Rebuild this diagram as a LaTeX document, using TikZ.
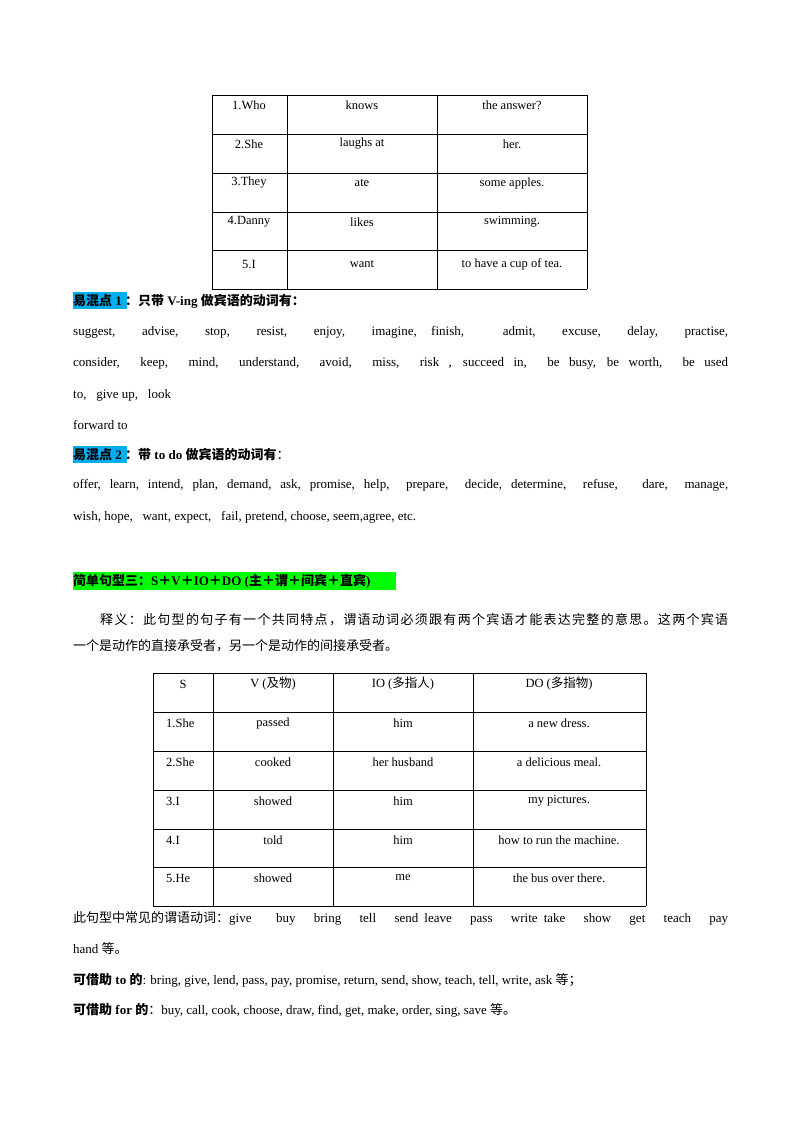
\documentclass[tikz,border=0pt]{standalone}
\usepackage{fontspec}
\setmainfont{Liberation Serif}
\newfontfamily\cjk{Noto Sans CJK SC}
\begin{document}
\begin{tikzpicture}[x=1pt,y=-1pt,
  tl/.style={draw=black,line width=0.6pt},
  ct/.style={font=\fontsize{12.5}{14}\selectfont,anchor=center,inner sep=0},
  ln/.style={font=\fontsize{13}{15}\selectfont,anchor=west,inner sep=0}]
\useasboundingbox (0,0) rectangle (800,1132);
% table 1
\foreach \y in {95,134,173,212,250,289} \draw[tl] (212,\y) -- (587,\y);
\foreach \x in {212,287,437,587} \draw[tl] (\x,95) -- (\x,289);
\foreach \r/\a/\b/\c [count=\i] in {0/1.Who/knows/the answer?,1/2.She/laughs at/her.,2/3.They/ate/some apples.,3/4.Danny/likes/swimming.,4/5.I/want/to have a cup of tea.}{
  \pgfmathsetmacro\yy{105+39*\r+(\r==4?3:0)}
  \node[ct] (a\i) at (249,\yy) {\a};
  \node[ct] (b\i) at (362,\yy) {\b};
  \node[ct] (c\i) at (512,\yy) {\c};}
% point 1
\fill[cyan] (73,292) rectangle (127,309);
\node[ln,font=\bfseries\fontsize{13}{15}\selectfont] (h1) at (73,301) {{\cjk 易混点} 1 {\cjk ：只带} V-ing {\cjk 做宾语的动词有：}};
\node[ln] (l1) at (73,332) {\makebox[655pt][s]{suggest, \ advise, \ stop, \ resist, \ enjoy, \ imagine, finish, \ \ admit, \ excuse, \ delay, \ practise,}};
\node[ln] (l2) at (73,363) {\makebox[655pt][s]{consider, \ keep, \ mind, \ understand, \ avoid, \ miss, \ risk , succeed in, \ be busy, be worth, \ be used}};
\node[ln] (l3) at (73,395) {to,\ \ \ give up,\ \ \ look};
\node[ln] (l4) at (73,425) {forward to};
% point 2
\fill[cyan] (73,446) rectangle (127,463);
\node[ln,font=\bfseries\fontsize{13}{15}\selectfont] (h2) at (73,455) {{\cjk 易混点} 2 {\cjk ：带} to do {\cjk 做宾语的动词有}{\cjk\mdseries ：}};
\node[ln] (l5) at (73,485) {\makebox[655pt][s]{offer, learn, intend, plan, demand, ask, promise, help, \ prepare, \ decide, determine, \ refuse, \ \ dare, \ manage,}};
\node[ln] (l6) at (73,517) {wish, hope,\ \ \ want, expect,\ \ \ fail,\ pretend,\ choose, seem,agree, etc.};
% pattern 3
\fill[green] (73,572) rectangle (396,590);
\node[ln,font=\bfseries\fontsize{13}{15}\selectfont] (h3) at (73,581) {{\cjk 简单句型三：}S{\cjk ＋}V{\cjk ＋}IO{\cjk ＋}DO ({\cjk 主＋谓＋间宾＋直宾})};
\node[ln] (p1) at (100,620) {\cjk\makebox[628pt][s]{释\hfil 义\hfil ：\hfil 此\hfil 句\hfil 型\hfil 的\hfil 句\hfil 子\hfil 有\hfil 一\hfil 个\hfil 共\hfil 同\hfil 特\hfil 点\hfil ，\hfil 谓\hfil 语\hfil 动\hfil 词\hfil 必\hfil 须\hfil 跟\hfil 有\hfil 两\hfil 个\hfil 宾\hfil 语\hfil 才\hfil 能\hfil 表\hfil 达\hfil 完\hfil 整\hfil 的\hfil 意\hfil 思\hfil 。\hfil 这\hfil 两\hfil 个\hfil 宾\hfil 语}};
\node[ln] (p2) at (73,646) {\cjk 一个是动作的直接承受者，另一个是动作的间接承受者。};
% table 2
\foreach \y in {673,712,751,790,829,867,906} \draw[tl] (153,\y) -- (646,\y);
\foreach \x in {153,213,333,473,646} \draw[tl] (\x,673) -- (\x,906);
\node[ct] (s0) at (183,684) {S};
\node[ct] (v0) at (273,684) {V ({\cjk 及物})};
\node[ct] (i0) at (403,684) {IO ({\cjk 多指人})};
\node[ct] (d0) at (559,684) {DO ({\cjk 多指物})};
\foreach \r/\a/\b/\c/\d [count=\i] in {1/1.She/passed/him/a new dress.,2/2.She/cooked/her husband/a delicious meal.,3/3.I/showed/him/my pictures.,4/4.I/told/him/how to run the machine.,5/5.He/showed/me/the bus over there.}{
  \pgfmathsetmacro\yy{684+39*\r-(\r==5?1:0)}
  \node[ct,anchor=west] (s\i) at (166,\yy) {\a};
  \node[ct] (v\i) at (273,\yy) {\b};
  \node[ct] (i\i) at (403,\yy) {\c};
  \node[ct] (d\i) at (559,\yy) {\d};}
\node[ln] (q1) at (73,918) {\makebox[655pt][s]{{\cjk 此句型中常见的谓语动词：}give\ \ \ \ buy\ \ \ bring\ \ \ tell\ \ \ send\ leave\ \ \ pass\ \ \ write\ take\ \ \ show\ \ \ get\ \ \ teach\ \ \ pay}};
\node[ln] (q2) at (73,949) {hand\ {\cjk 等。}};
\node[ln] (q3) at (73,980) {{\cjk\bfseries 可借助}\textbf{ to }{\cjk\bfseries 的}: bring, give, lend, pass, pay, promise, return, send, show, teach, tell, write, ask {\cjk 等；}};
\node[ln] (q4) at (73,1010) {{\cjk\bfseries 可借助}\textbf{ for }{\cjk\bfseries 的}{\cjk ：}buy, call, cook, choose, draw, find, get, make, order, sing, save {\cjk 等。}};
\end{tikzpicture}
\end{document}
